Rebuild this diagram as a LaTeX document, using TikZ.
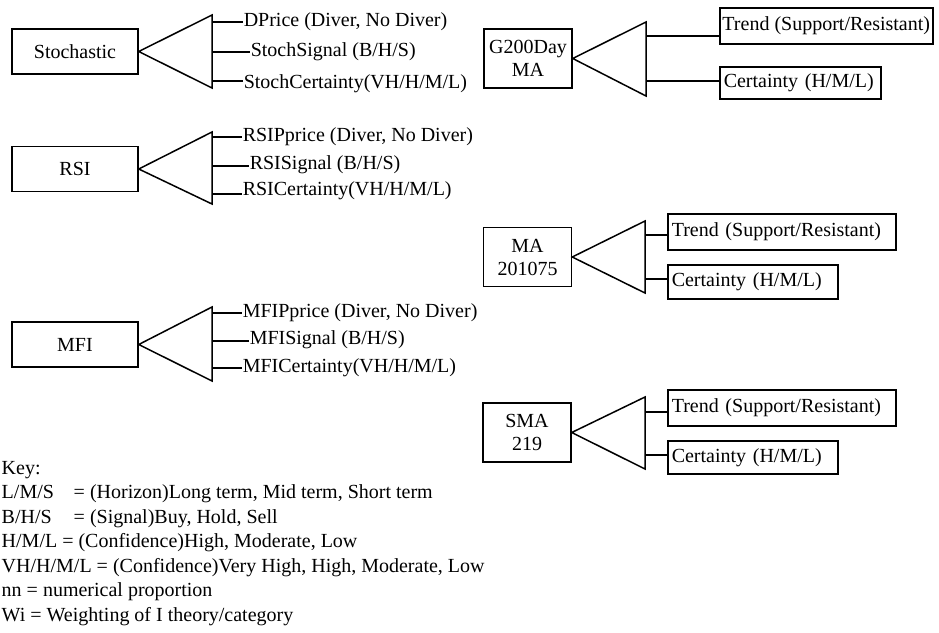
\documentclass[tikz,border=0pt]{standalone}
\usepackage{fontspec}
\setmainfont{Liberation Serif}
\begin{document}
\begin{tikzpicture}[x=1pt,y=-1pt, line width=1.5pt,
  every node/.style={font=\fontsize{20}{23}\selectfont},
  lbox/.style={draw, minimum width=126pt, minimum height=45pt, inner sep=0pt},
  mbox/.style={draw, align=center, inner sep=0pt, minimum width=88pt, minimum height=59pt},
  rbox/.style={draw, anchor=north west, align=left, inner xsep=4pt, inner ysep=0pt},
  cbox/.style={draw, anchor=north west, inner sep=0pt},
  ltxt/.style={anchor=west, inner sep=0pt},
  keytxt/.style={anchor=base west, inner sep=0pt}]
\useasboundingbox (0,0) rectangle (939,632);

% ---------- Stochastic ----------
\node[lbox] (stoch) at (75,51.5) {Stochastic};
\coordinate (st) at (212,15); \coordinate (sb) at (212,88);
\draw (stoch.east) -- (st) -- (sb) -- cycle;
\node[ltxt] (s1) at (243,22) {DPrice (Diver, No Diver)};
\node[ltxt] (s2) at (250,52) {StochSignal (B/H/S)};
\node[ltxt] (s3) at (243,84) {StochCertainty(VH/H/M/L)};
\coordinate (sv1) at (212,22); \coordinate (sv2) at (212,52); \coordinate (sv3) at (212,81);
\draw (sv1) -- (sv1 -| s1.west);
\draw (sv2) -- (sv2 -| s2.west);
\draw (sv3) -- (sv3 -| s3.west);

% ---------- RSI ----------
\node[lbox] (rsi) at (75,169) {RSI};
\coordinate (rt) at (212,132); \coordinate (rb) at (212,204);
\draw (rsi.east) -- (rt) -- (rb) -- cycle;
\node[ltxt] (r1) at (242,137) {RSIPprice (Diver, No Diver)};
\node[ltxt] (r2) at (249,165) {RSISignal (B/H/S)};
\node[ltxt] (r3) at (242,191) {RSICertainty(VH/H/M/L)};
\coordinate (rv1) at (212,137); \coordinate (rv2) at (212,166); \coordinate (rv3) at (212,194);
\draw (rv1) -- (rv1 -| r1.west);
\draw (rv2) -- (rv2 -| r2.west);
\draw (rv3) -- (rv3 -| r3.west);

% ---------- MFI ----------
\node[lbox] (mfi) at (75,344.5) {MFI};
\coordinate (mt) at (212,307); \coordinate (mb) at (212,381);
\draw (mfi.east) -- (mt) -- (mb) -- cycle;
\node[ltxt] (m1) at (242,313) {MFIPprice (Diver, No Diver)};
\node[ltxt] (m2) at (249,340) {MFISignal (B/H/S)};
\node[ltxt] (m3) at (242,368) {MFICertainty(VH/H/M/L)};
\coordinate (mv1) at (212,313); \coordinate (mv2) at (212,341); \coordinate (mv3) at (212,368);
\draw (mv1) -- (mv1 -| m1.west);
\draw (mv2) -- (mv2 -| m2.west);
\draw (mv3) -- (mv3 -| m3.west);

% ---------- G200Day MA ----------
\node[mbox] (g200) at (528,58.5) {G200Day\\MA};
\coordinate (gt) at (646,22); \coordinate (gb) at (646,96);
\draw (g200.east) -- (gt) -- (gb) -- cycle;
\node[cbox, minimum width=213pt, minimum height=36pt] (gtr) at (719,7) {Trend (Support/Resistant)};
\node[rbox, text width=153pt, minimum height=32pt] (gce) at (719,66) {Certainty (H/M/L)};
\coordinate (gv1) at (646,36); \coordinate (gv2) at (646,81);
\draw (gv1) -- (gv1 -| gtr.west);
\draw (gv2) -- (gv2 -| gce.west);

% ---------- MA 201075 ----------
\node[mbox] (ma) at (527.5,257) {MA\\201075};
\coordinate (at) at (645,221); \coordinate (ab) at (645,293);
\draw (ma.east) -- (at) -- (ab) -- cycle;
\node[rbox, text width=220pt, minimum height=36pt] (atr) at (667,213) {Trend (Support/Resistant)};
\node[rbox, text width=162pt, minimum height=34pt] (ace) at (667,264) {Certainty (H/M/L)};
\coordinate (av1) at (645,235); \coordinate (av2) at (645,279);
\draw (av1) -- (av1 -| atr.west);
\draw (av2) -- (av2 -| ace.west);

% ---------- SMA 219 ----------
\node[mbox] (sma) at (527,432.5) {SMA\\219};
\coordinate (qt) at (645,397); \coordinate (qb) at (645,469);
\draw (sma.east) -- (qt) -- (qb) -- cycle;
\node[rbox, text width=220pt, minimum height=36pt] (qtr) at (667,389) {Trend (Support/Resistant)};
\node[rbox, text width=162pt, minimum height=33pt] (qce) at (667,440) {Certainty (H/M/L)};
\coordinate (qv1) at (645,412); \coordinate (qv2) at (645,455);
\draw (qv1) -- (qv1 -| qtr.west);
\draw (qv2) -- (qv2 -| qce.west);

% ---------- Key ----------
\node[keytxt] (k0) at (1,474) {Key:};
\node[keytxt] (k1) at (1,498.5) {\makebox[72pt][l]{L/M/S}= (Horizon)Long term, Mid term, Short term};
\node[keytxt] (k2) at (1,523) {\makebox[72pt][l]{B/H/S}= (Signal)Buy, Hold, Sell};
\node[keytxt] (k3) at (1,547.5) {H/M/L = (Confidence)High, Moderate, Low};
\node[keytxt] (k4) at (1,572) {VH/H/M/L = (Confidence)Very High, High, Moderate, Low};
\node[keytxt] (k5) at (1,596.5) {nn = numerical proportion};
\node[keytxt] (k6) at (1,621) {Wi = Weighting of I theory/category};
\end{tikzpicture}
\end{document}
